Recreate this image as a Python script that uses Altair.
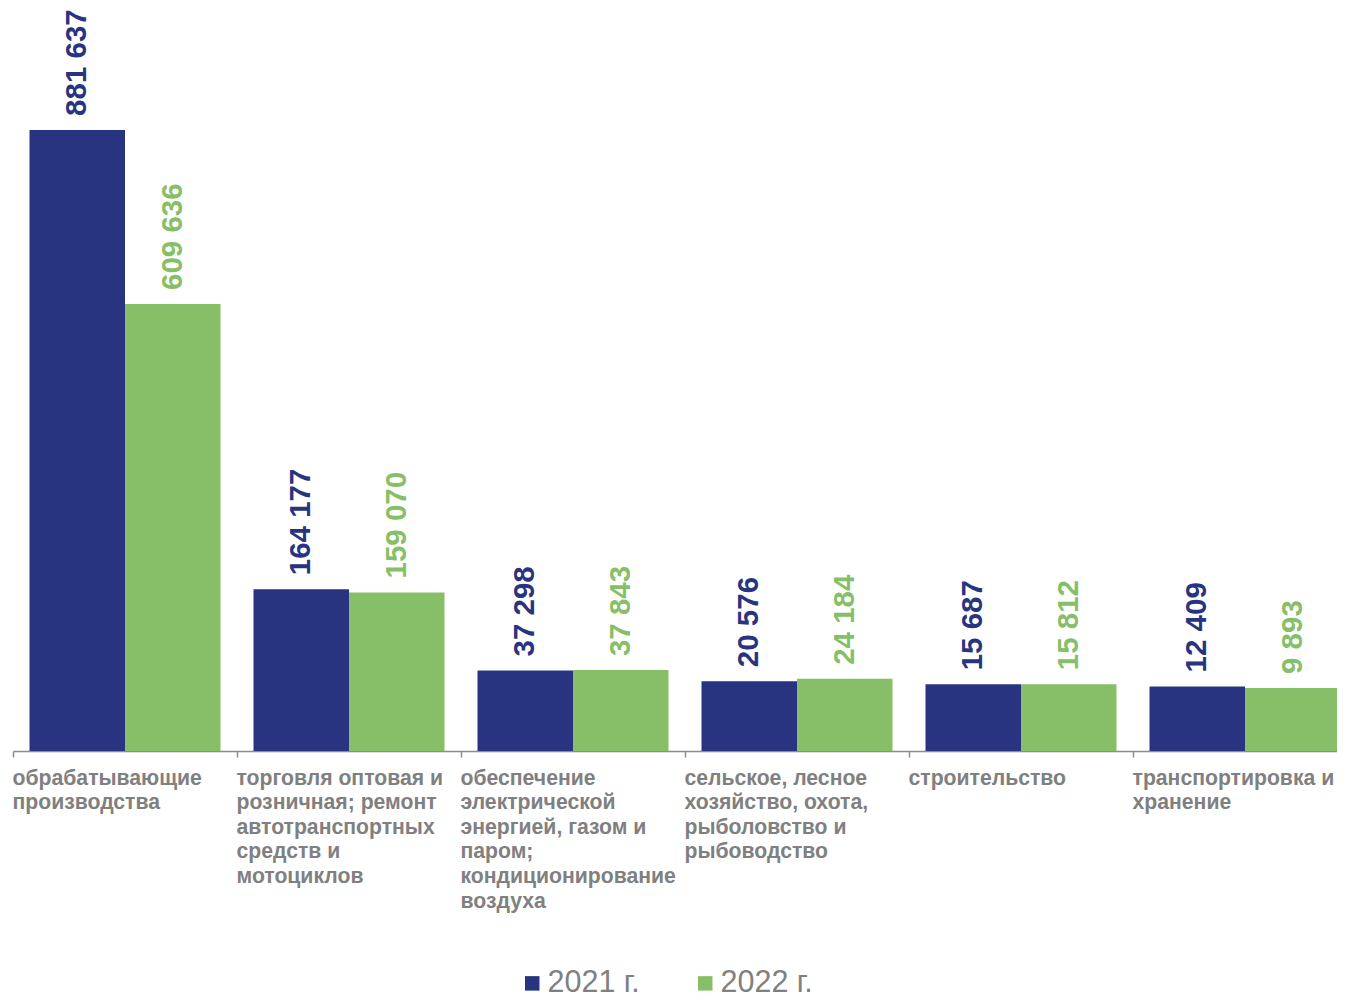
import altair as alt
import pandas as pd

categories = [
    "обрабатывающие\nпроизводства",
    "торговля оптовая и\nрозничная; ремонт\nавтотранспортных\nсредств и\nмотоциклов",
    "обеспечение\nэлектрической\nэнергией, газом и\nпаром;\nкондиционирование\nвоздуха",
    "сельское, лесное\nхозяйство, охота,\nрыболовство и\nрыбоводство",
    "строительство",
    "транспортировка и\nхранение",
]
years = ["2021 г.", "2022 г."]
values_2021 = [881637, 164177, 37298, 20576, 15687, 12409]
values_2022 = [609636, 159070, 37843, 24184, 15812, 9893]
colors = ["#283480", "#87bf68"]

rows = []
for c, a, b in zip(categories, values_2021, values_2022):
    rows.append({"cat": c, "year": years[0], "v": a, "lab": f"{a:,}".replace(",", " ")})
    rows.append({"cat": c, "year": years[1], "v": b, "lab": f"{b:,}".replace(",", " ")})
df = pd.DataFrame(rows)

Y0 = -88500
xscale = alt.Scale(range=[0, 1344], paddingInner=0, paddingOuter=0)
x = alt.X(
    "cat:N",
    sort=categories,
    scale=xscale,
    title=None,
    axis=alt.Axis(
        labelExpr="split(datum.label, '\\n')",
        labelAlign="left",
        labelOffset=-113,
        labelAngle=0,
        labelFont="Liberation Sans",
        labelFontWeight="bold",
        labelFontSize=21.2,
        labelLineHeight=24.6,
        labelColor="#808080",
        labelLimit=400,
        labelOverlap=False,
        labelBound=False,
        labelPadding=10,
        tickBand="extent",
        tickSize=6,
        tickColor="#8c8c8c",
        tickWidth=1.5,
        domainColor="#8c8c8c",
        domainWidth=1.5,
        grid=False,
    ),
)
xo = alt.XOffset("year:N", sort=years, scale=alt.Scale(paddingInner=0, paddingOuter=0.1728))
yscale = alt.Scale(domain=[Y0, 1072000], nice=False, zero=False)
color = alt.Color(
    "year:N",
    sort=years,
    scale=alt.Scale(domain=years, range=colors),
    legend=alt.Legend(
        title=None,
        orient="none",
        legendX=504,
        legendY=960,
        direction="horizontal",
        symbolType="square",
        symbolSize=210,
        symbolStrokeWidth=0,
        labelFont="Liberation Sans",
        labelFontSize=30.5,
        labelColor="#808080",
        labelOffset=0,
        columnPadding=50,
        padding=0,
    ),
)

bars = alt.Chart(df).mark_bar().encode(
    x=x,
    xOffset=xo,
    y=alt.Y("v:Q", scale=yscale, axis=None),
    y2=alt.datum(Y0),
    color=color,
)

text = alt.Chart(df).mark_text(
    angle=270,
    align="left",
    baseline="middle",
    dx=14,
    font="Liberation Sans",
    fontWeight="bold",
    fontSize=29.5,
).encode(
    x=x,
    xOffset=xo,
    y=alt.Y("v:Q", scale=yscale, axis=None),
    text="lab:N",
    color=alt.Color("year:N", sort=years, scale=alt.Scale(domain=years, range=colors), legend=None),
)

chart = (
    alt.layer(bars, text)
    .properties(
        width=1324,
        height=743,
        autosize=alt.AutoSizeParams(type="none"),
        padding={"left": 5, "top": 0, "right": 0, "bottom": 243},
    )
    .configure_view(stroke=None)
)

chart.save("out.html", embed_options={"renderer": "svg", "actions": False})
